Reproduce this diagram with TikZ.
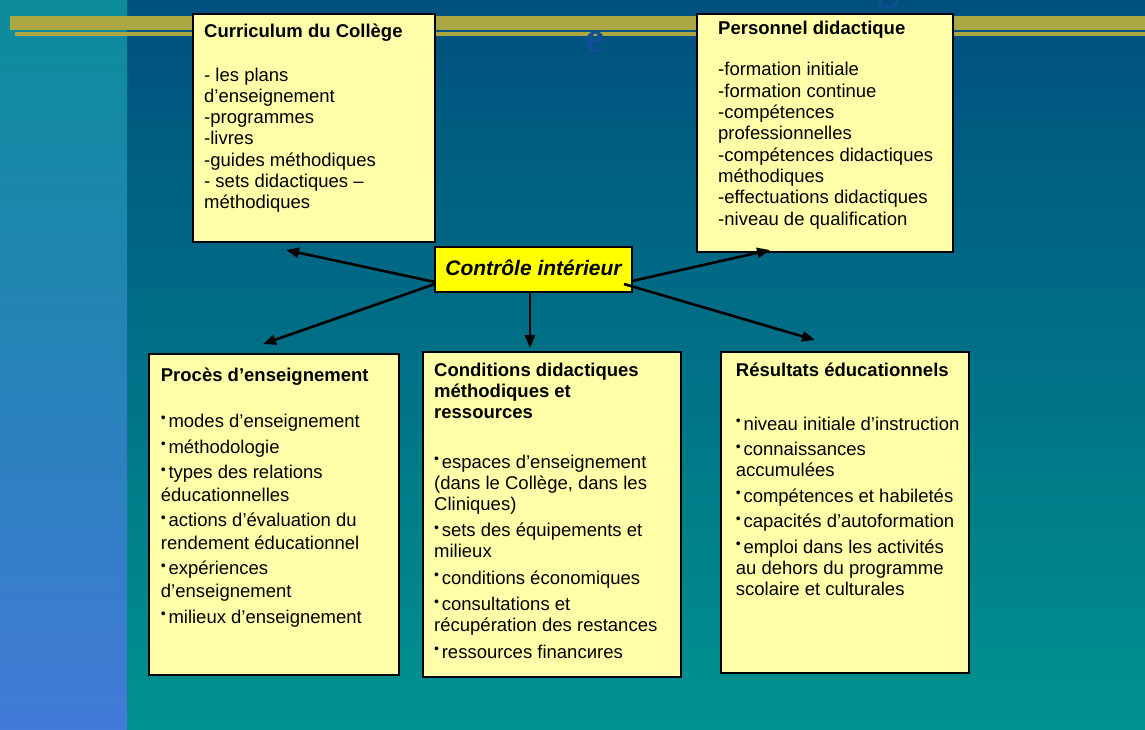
\documentclass[tikz,border=0pt]{standalone}
\usepackage{fontspec}
\setmainfont{Liberation Sans}
\newfontfamily\serifx{Liberation Serif}
\usetikzlibrary{arrows.meta,calc}
\definecolor{bgtop}{HTML}{00507E}
\definecolor{bgbot}{HTML}{00928F}
\definecolor{striptop}{HTML}{0C8C9A}
\definecolor{stripbot}{HTML}{427AD7}
\definecolor{olive}{HTML}{ABA844}
\definecolor{boxfill}{HTML}{FFFFAA}
\definecolor{ctlfill}{HTML}{FFFF00}
\definecolor{titleblue}{HTML}{124F96}
\newcommand\bul{\makebox[7.6pt][l]{\raisebox{4.6pt}{\fontsize{14}{14}\selectfont •}}}
\newcommand\fst{\rule{0pt}{16pt}}
\begin{document}
\begin{tikzpicture}[x=1pt,y=-1pt,
  box/.style={draw=black, line width=2pt, fill=boxfill, anchor=north west, inner sep=0pt, outer sep=0pt},
  txt/.style={anchor=north west, inner sep=0pt, align=left, text=black},
  link/.style={line width=2.6pt, -{Triangle[length=13pt,width=10pt]}}]
\useasboundingbox (0,0) rectangle (1145,729);
\begin{scope}
\clip (0,0) rectangle (1145,729);
% backgrounds
\shade[top color=bgtop, bottom color=bgbot] (127,0) rectangle (1145,729);
\shade[top color=striptop, bottom color=stripbot] (0,0) rectangle (127,729);
% olive bars
\fill[olive] (10,15.7) rectangle (1145,29.5);
\fill[olive] (15,31.7) rectangle (1145,35.7);
% partial title letters
\node[anchor=base west, inner sep=0pt, text=titleblue, font=\serifx\bfseries\fontsize{44}{44}\selectfont] (tE) at (585,52.5) {e};
\node[anchor=base west, inner sep=0pt, text=titleblue, font=\serifx\fontsize{46}{46}\selectfont] (tG) at (876,-2) {g};
\end{scope}

% boxes
\node[box, minimum width=242pt, minimum height=228pt] (cur) at (193,14) {};
\node[box, minimum width=256pt, minimum height=238pt] (per) at (697,14) {};
\node[box, minimum width=250pt, minimum height=321pt] (pro) at (149,354) {};
\node[box, minimum width=258pt, minimum height=325pt] (con) at (423,352) {};
\node[box, minimum width=248pt, minimum height=321pt] (res) at (721,352) {};
\node[box, fill=ctlfill, minimum width=197pt, minimum height=45pt] (ctl) at (435,247) {};

% texts
\node[txt, font=\fontsize{18.5}{21.2}\selectfont] (curT) at (204,21.5) {\fst\textbf{Curriculum du Collège}\\[22.3pt]
- les plans\\
d’enseignement\\
-programmes\\
-livres\\
-guides méthodiques\\
- sets didactiques –\\
méthodiques};

\node[txt, font=\fontsize{18.5}{21.3}\selectfont] (perT) at (718,18.3) {\fst\textbf{Personnel didactique}\\[20.1pt]
-formation initiale\\
-formation continue\\
-compétences\\
professionnelles\\
-compétences didactiques\\
méthodiques\\
-effectuations didactiques\\
-niveau de qualification};

\node[txt, font=\fontsize{18.5}{22.5}\selectfont] (proT) at (160.7,365.7) {\fst\textbf{Procès d’enseignement}\\[23.1pt]
\bul modes d’enseignement\\[3.1pt]
\bul méthodologie\\[3.1pt]
\bul types des relations\\
éducationnelles\\[3.1pt]
\bul actions d’évaluation du\\
rendement éducationnel\\[3.1pt]
\bul expériences\\
d’enseignement\\[3.1pt]
\bul milieux d’enseignement};

\node[txt, font=\fontsize{18.5}{21}\selectfont] (conT) at (434,360.7) {\fst\textbf{Conditions didactiques}\\
\textbf{méthodiques et}\\
\textbf{ressources}\\[28.3pt]
\bul espaces d’enseignement\\
(dans le Collège, dans les\\
Cliniques)\\[5.5pt]
\bul sets des équipements et\\
milieux\\[5.5pt]
\bul conditions économiques\\[5.5pt]
\bul consultations et\\
récupération des restances\\[5.5pt]
\bul ressources financиres};

\node[txt, font=\fontsize{18.5}{20.8}\selectfont] (resT) at (735.7,360) {\fst\textbf{Résultats éducationnels}\\[33.2pt]
\bul niveau initiale d’instruction\\[4.8pt]
\bul connaissances\\
accumulées\\[4.8pt]
\bul compétences et habiletés\\[4.8pt]
\bul capacités d’autoformation\\[4.8pt]
\bul emploi dans les activités\\
au dehors du programme\\
scolaire et culturales};

\node[anchor=base, inner sep=0pt, font=\fontsize{21}{25}\selectfont\bfseries\itshape] (ctlT) at (533.5,275) {Contrôle intérieur};

% connectors
\coordinate (tipCur) at (286,250);
\coordinate (tipPro) at (263,344);
\coordinate (tipCon) at (530,348);
\coordinate (tipPer) at (770,250);
\coordinate (tipRes) at (815,340);
\draw[link] ($(ctl.south west)+(0,-10)$) -- (tipCur);
\draw[link] ($(ctl.south west)+(0,-8)$) -- (tipPro);
\draw[link] ($(ctl.south)+(-3.5,0)$) -- (tipCon);
\draw[link] ($(ctl.south east)+(0,-11)$) -- (tipPer);
\draw[link] ($(ctl.south east)+(-8,-8)$) -- (tipRes);
\end{tikzpicture}
\end{document}
